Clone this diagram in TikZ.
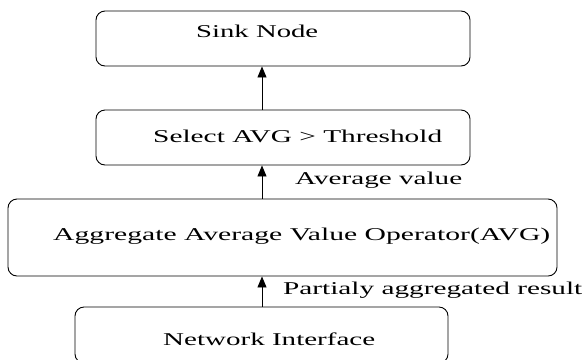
\documentclass[tikz,border=0pt]{standalone}
\usepackage{fontspec}
\setmainfont{Liberation Serif}
\usetikzlibrary{arrows.meta}
\newcommand{\fitw}[2]{\resizebox{#1}{\height}{\fontsize{18bp}{20bp}\selectfont #2}}
\begin{document}
\begin{tikzpicture}[x=1bp,y=-1bp,
  box/.style={draw, line width=0.9bp, rounded corners=9bp, inner sep=0pt},
  lbl/.style={anchor=base west, inner sep=0pt},
  arr/.style={line width=0.9bp, -{Triangle[length=11bp,width=9bp]}}]
\useasboundingbox (0,0) rectangle (584,359);
\clip (0,0) rectangle (584,359);
\node[box, minimum width=374bp, minimum height=55bp] (sink) at (283,38.5) {};
\node[box, minimum width=374bp, minimum height=55bp] (sel) at (283,137.5) {};
\node[box, minimum width=549bp, minimum height=77bp] (agg) at (282.5,237.5) {};
\node[box, minimum width=373bp, minimum height=56bp] (net) at (261.5,335) {};
\node[lbl] (tsink) at (196,37) {\fitw{122bp}{Sink Node}};
\node[lbl] (tsel) at (153,142) {\fitw{289bp}{Select AVG > Threshold}};
\node[lbl] (tagg) at (53,240) {\fitw{497bp}{Aggregate Average Value Operator(AVG)}};
\node[lbl] (tnet) at (163,345) {\fitw{212bp}{Network Interface}};
\node[lbl] (tavg) at (295,184) {\fitw{167bp}{Average value}};
\node[lbl] (tpar) at (283,294) {\fitw{299bp}{Partialy aggregated result}};
\coordinate (ax) at (262,0);
\draw[arr] (sel.north -| ax) -- (sink.south -| ax);
\draw[arr] (agg.north -| ax) -- (sel.south -| ax);
\draw[arr] (net.north -| ax) -- (agg.south -| ax);
\end{tikzpicture}
\end{document}
